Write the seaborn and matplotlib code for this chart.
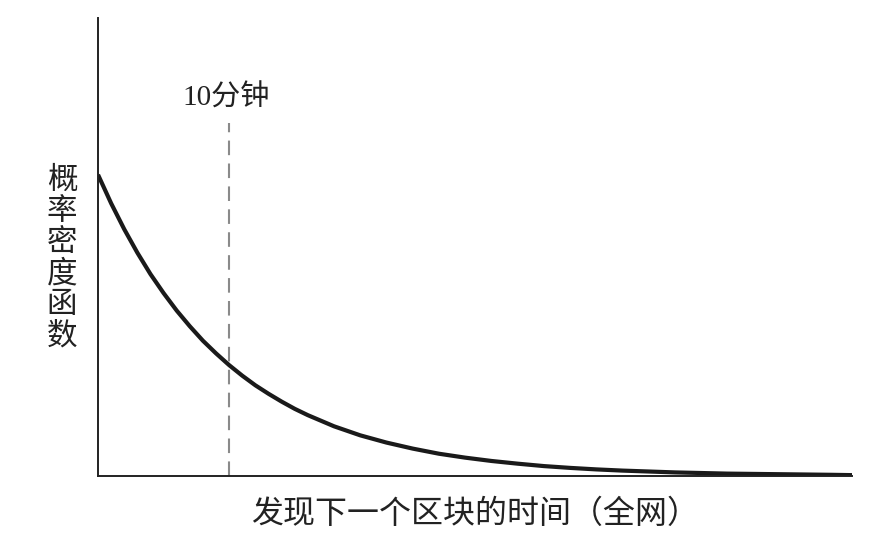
import numpy as np
import pandas as pd
import matplotlib
matplotlib.use("Agg")
import matplotlib.pyplot as plt
import seaborn as sns

# values (time in minutes, density)
minutes = [0, 1, 2, 3, 4, 5, 6, 7, 8, 9, 10, 11, 12, 13, 14, 15, 16, 18,
           20, 22, 24, 26, 28, 30, 32, 34, 36, 38, 40, 42, 44, 46, 48, 50,
           52, 54, 56, 57.5]
density = [0.1000, 0.0905, 0.0819, 0.0741, 0.0670, 0.0607, 0.0549, 0.0497,
           0.0449, 0.0407, 0.0368, 0.0333, 0.0301, 0.0273, 0.0247, 0.0223,
           0.0202, 0.0165, 0.0135, 0.0111, 0.0091, 0.0074, 0.0061, 0.0050,
           0.0041, 0.0033, 0.0027, 0.0022, 0.0018, 0.0015, 0.0012, 0.0010,
           0.0008, 0.0007, 0.0006, 0.0005, 0.0004, 0.0003]
mark_time = 10
mark_top = 0.117
mark_label = '10分钟'
x_label = '发现下一个区块的时间（全网）'
y_label = '概率密度函数'

sns.set_style('white')
plt.rcParams['font.family'] = ['Noto Sans CJK SC', 'DejaVu Sans']

df = pd.DataFrame({'t': minutes, 'p': density})

fig = plt.figure(figsize=(8.84, 5.5), dpi=100)
ax = fig.add_axes([0.1109, 0.1345, 0.8529, 0.8327])

sns.lineplot(data=df, x='t', y='p', ax=ax, color='#1a1a1a', linewidth=3,
             solid_capstyle='butt', solid_joinstyle='round')
ax.plot([mark_time, mark_time], [0, mark_top], color='#8a8a8a',
        linewidth=1.5, dashes=(7, 4))
ax.text(mark_time - 0.2, mark_top + 0.004, mark_label, ha='center', va='bottom',
        fontsize=21, color='#222222',
        family=['Liberation Serif', 'Noto Sans CJK SC'])

ax.set_xlim(0, 57.5)
ax.set_ylim(0, 0.152)
ax.set_xticks([])
ax.set_yticks([])
sns.despine(ax=ax)
for s in ['left', 'bottom']:
    ax.spines[s].set_linewidth(1.4)
    ax.spines[s].set_color('#222222')

ax.set_xlabel(x_label, fontsize=23, color='#222222', labelpad=16)
ax.set_ylabel('\n'.join(y_label), rotation=0, fontsize=22, color='#222222',
              linespacing=1.0, va='center', ha='center')
ax.yaxis.set_label_coords(-0.048, 0.476)

fig.savefig('out.png', dpi=100)
